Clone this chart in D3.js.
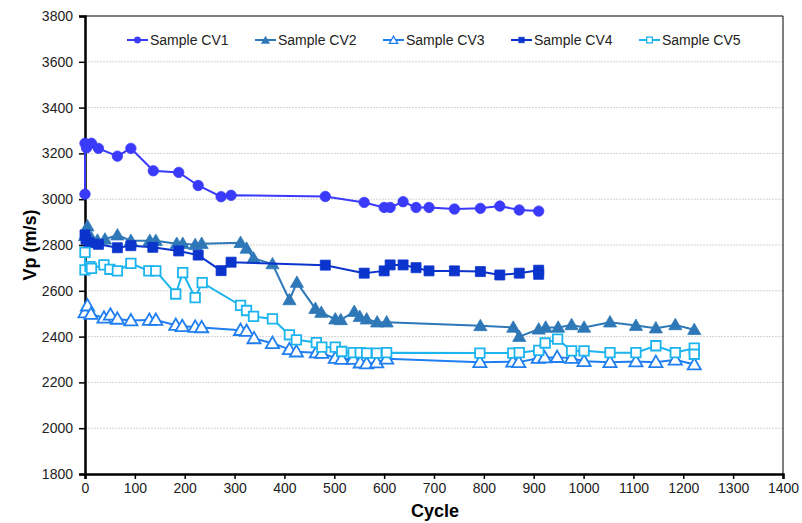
<!DOCTYPE html>
<html><head><meta charset="utf-8">
<script src="https://cdn.jsdelivr.net/npm/d3@7"></script>
<style>body{margin:0;background:#fff}svg{display:block;font-family:"Liberation Sans",Arial,sans-serif}</style>
</head><body><svg id="c" width="802" height="523"></svg>
<script>
const xTicks = [0,100,200,300,400,500,600,700,800,900,1000,1100,1200,1300,1400];
const yTicks = [1800,2000,2200,2400,2600,2800,3000,3200,3400,3600,3800];
const seriesNames = ["Sample CV1","Sample CV2","Sample CV3","Sample CV4","Sample CV5"];

const cv1 = [[0,3022],[0,3244],[3,3224],[13,3244],[27,3222],[65,3188],[92,3222],[137,3124],[188,3117],[227,3060],[273,3011],[293,3017],[482,3012],[560,2986],[600,2964],[612,2964],[638,2989],[664,2964],[690,2964],[741,2957],[793,2960],[832,2970],[871,2953],[910,2948]];
const cv2 = [[0,2840],[5,2882],[13,2830],[25,2820],[40,2825],[65,2843],[92,2819],[130,2819],[142,2819],[184,2806],[196,2806],[221,2801],[234,2806],[312,2810],[324,2785],[338,2742],[376,2717],[410,2560],[425,2636],[462,2522],[474,2505],[502,2476],[513,2473],[540,2509],[551,2487],[565,2476],[586,2463],[605,2463],[793,2447],[859,2440],[871,2400],[910,2432],[924,2440],[949,2440],[976,2451],[1001,2440],[1053,2463],[1105,2448],[1145,2437],[1184,2451],[1222,2430]];
const cv3 = [[0,2505],[5,2535],[12,2498],[38,2482],[51,2495],[65,2477],[92,2470],[129,2472],[142,2472],[182,2450],[195,2445],[221,2442],[234,2440],[312,2428],[324,2424],[339,2392],[376,2371],[410,2344],[424,2334],[464,2330],[475,2328],[502,2306],[515,2302],[538,2302],[552,2286],[565,2282],[585,2287],[605,2303],[792,2288],[858,2290],[870,2288],[909,2306],[922,2308],[947,2310],[976,2306],[1001,2292],[1053,2288],[1105,2291],[1145,2288],[1184,2299],[1222,2278]];
const cv4 = [[0,2844],[2,2825],[8,2810],[27,2803],[65,2788],[92,2797],[136,2790],[188,2774],[227,2756],[273,2688],[293,2725],[482,2712],[560,2677],[600,2687],[612,2713],[638,2713],[664,2701],[690,2687],[741,2687],[793,2684],[832,2669],[871,2677],[910,2690],[910,2672]];
const cv5 = [[0,2768],[0,2691],[10,2706],[13,2698],[38,2713],[50,2694],[65,2687],[92,2720],[128,2687],[142,2687],[182,2586],[196,2679],[221,2570],[235,2636],[312,2536],[324,2514],[338,2488],[376,2477],[410,2408],[424,2386],[464,2374],[475,2354],[502,2354],[515,2335],[538,2330],[552,2330],[565,2328],[585,2328],[605,2330],[792,2328],[858,2328],[871,2330],[910,2340],[923,2372],[948,2389],[976,2338],[1001,2338],[1053,2330],[1105,2330],[1145,2360],[1184,2330],[1222,2350],[1222,2323]];

const allData = [cv1,cv2,cv3,cv4,cv5];
const colors = ["#3a3afa","#2e78b8","#1f7ef0","#0a34cc","#1cb4ee"];
const shapes = [d3.symbolCircle,d3.symbolTriangle,d3.symbolTriangle,d3.symbolSquare,d3.symbolSquare];
const filled = [true,true,false,true,false];
const sizes = [85,75,75,100,90];
const legSizes = [32,30,30,32,32];

const svg = d3.select("#c");
const L=85,R=783,T=16,B=474;
const x = d3.scaleLinear().domain([0,1400]).range([L,R]);
const y = d3.scaleLinear().domain([1800,3800]).range([B,T]);

// gridlines
svg.append("g").selectAll("line").data(yTicks.filter(v=>v>1800&&v<3800)).join("line")
  .attr("x1",L).attr("x2",R).attr("y1",d=>y(d)).attr("y2",d=>y(d))
  .attr("stroke","#d4d4d4").attr("stroke-width",1).attr("stroke-dasharray","2,1");
// top/right border
svg.append("path").attr("d",`M${L},${T}H${R}V${B}`).attr("fill","none").attr("stroke","#000").attr("stroke-width",1);

// axes
const xa = svg.append("g").attr("transform",`translate(0,${B})`)
  .call(d3.axisBottom(x).tickValues(xTicks).tickSize(5).tickPadding(4).tickFormat(d3.format("d")));
const ya = svg.append("g").attr("transform",`translate(${L},0)`)
  .call(d3.axisLeft(y).tickValues(yTicks).tickSize(6).tickPadding(6).tickFormat(d3.format("d")));
[xa,ya].forEach(a=>{
  a.select(".domain").attr("stroke","#000").attr("stroke-width",2.5);
  a.selectAll(".tick line").attr("stroke","#000").attr("stroke-width",1.5);
  a.selectAll("text").attr("font-size",14).attr("fill","#222").attr("font-family","Liberation Sans, Arial, sans-serif");
});

// titles
svg.append("text").attr("x",435).attr("y",517).attr("text-anchor","middle")
  .attr("font-weight","bold").attr("font-size",18).attr("fill","#000").text("Cycle");
svg.append("text").attr("transform","translate(36,245) rotate(-90)").attr("text-anchor","middle")
  .attr("font-weight","bold").attr("font-size",18).attr("fill","#000").text("Vp (m/s)");

// series
const line = d3.line().x(d=>x(d[0])).y(d=>y(d[1]));
allData.forEach((data,i)=>{
  const g = svg.append("g");
  g.append("path").attr("d",line(data)).attr("fill","none").attr("stroke",colors[i]).attr("stroke-width",2);
  const sym = d3.symbol().type(shapes[i]).size(sizes[i]);
  g.selectAll("path.m").data(data).join("path").attr("class","m")
    .attr("transform",d=>`translate(${x(d[0])},${y(d[1]) + (shapes[i]===d3.symbolTriangle?1:0)})`)
    .attr("d",sym)
    .attr("fill",filled[i]?colors[i]:"#fff")
    .attr("stroke",colors[i]).attr("stroke-width",filled[i]?0.8:1.8);
});

// legend
const legX = [127,255,383,511,639];
seriesNames.forEach((name,i)=>{
  const g = svg.append("g").attr("transform",`translate(${legX[i]},40)`);
  g.append("line").attr("x1",0).attr("x2",21).attr("y1",0).attr("y2",0).attr("stroke",colors[i]).attr("stroke-width",2);
  g.append("path").attr("transform",`translate(10.5,${shapes[i]===d3.symbolTriangle?1:0})`)
    .attr("d",d3.symbol().type(shapes[i]).size(legSizes[i])())
    .attr("fill",filled[i]?colors[i]:"#fff").attr("stroke",colors[i]).attr("stroke-width",filled[i]?0.5:1.3);
  g.append("text").attr("x",23).attr("y",5).attr("font-size",14).attr("fill","#222").text(name);
});
</script></body></html>
